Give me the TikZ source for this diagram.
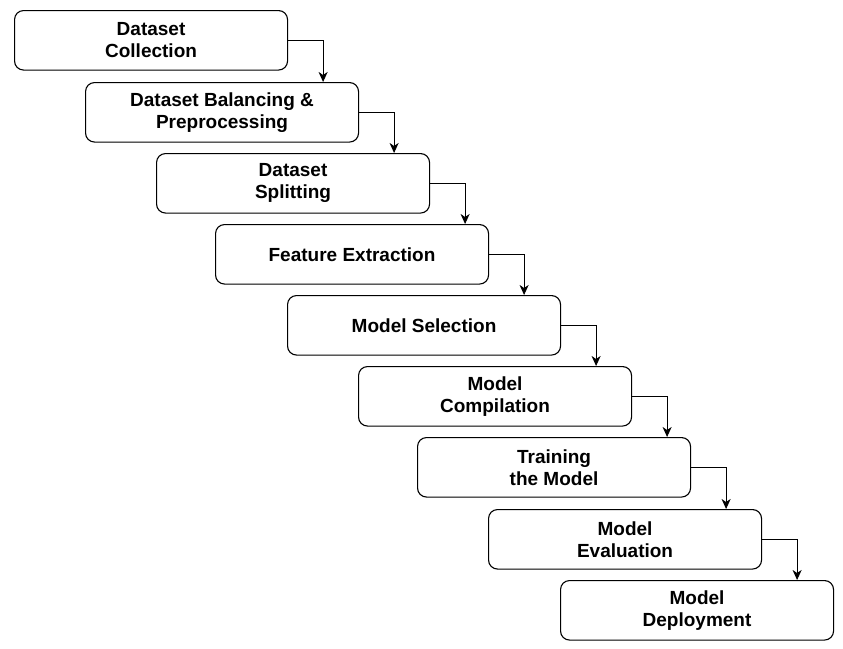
\documentclass[tikz,border=0pt]{standalone}
\usepackage{fontspec}
\setmainfont{Liberation Sans}
\usetikzlibrary{arrows.meta}
\begin{document}
\begin{tikzpicture}[x=1pt,y=-1pt,
  stepbox/.style={draw=black,line width=1.1pt,rounded corners=9pt,fill=white,
    minimum width=273pt,minimum height=59.5pt,anchor=north west,inner sep=0pt,
    align=center,font=\fontsize{19}{22}\selectfont\bfseries},
  arr/.style={draw=black,line width=0.9pt,-{Stealth[length=10pt,width=9pt,inset=3pt]}}]
\useasboundingbox (0,0) rectangle (843,648);
\node[stepbox] (b1) at (14,10) {Dataset\\Collection};
\node[stepbox] (b2) at (85,82) {Dataset Balancing \&\\Preprocessing};
\node[stepbox] (b3) at (156,153) {Dataset\\Splitting};
\node[stepbox] (b4) at (215,224) {Feature Extraction};
\node[stepbox] (b5) at (287,295) {Model Selection};
\node[stepbox] (b6) at (358,366) {Model\\Compilation};
\node[stepbox] (b7) at (417,437) {Training\\the Model};
\node[stepbox] (b8) at (488,509) {Model\\Evaluation};
\node[stepbox] (b9) at (560,580) {Model\\Deployment};
\foreach \a/\b in {b1/b2,b2/b3,b3/b4,b4/b5,b5/b6,b6/b7,b7/b8,b8/b9}{
  \coordinate (c\a) at ([xshift=35pt]\a.east);
  \draw[arr] (\a.east) -| (c\a |- \b.north);
}
\end{tikzpicture}
\end{document}
